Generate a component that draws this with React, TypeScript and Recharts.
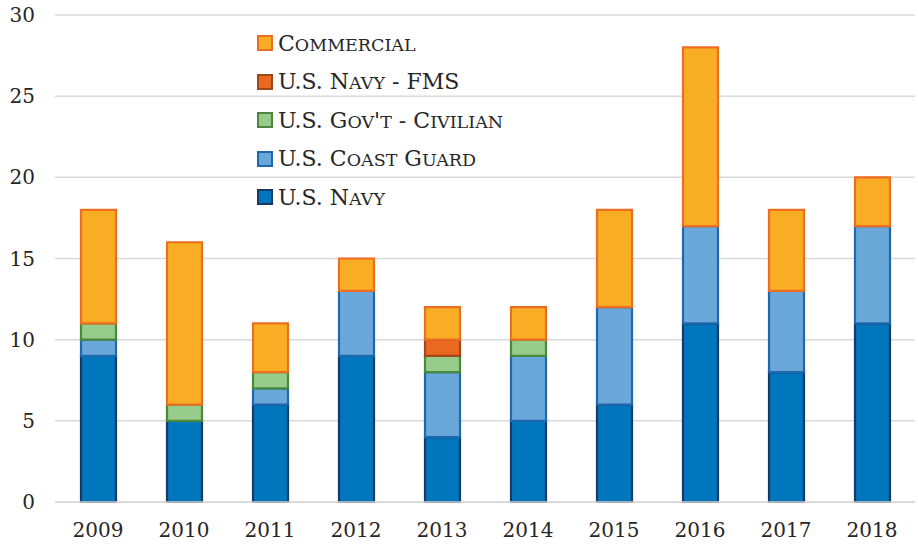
import React from 'react';
import { BarChart, Bar, XAxis, YAxis, CartesianGrid } from 'recharts';

const years = ['2009', '2010', '2011', '2012', '2013', '2014', '2015', '2016', '2017', '2018'];
const usNavy = [9, 5, 6, 9, 4, 5, 6, 11, 8, 11];
const coastGuard = [1, 0, 1, 4, 4, 4, 6, 6, 5, 6];
const govCivilian = [1, 1, 1, 0, 1, 1, 0, 0, 0, 0];
const navyFms = [0, 0, 0, 0, 1, 0, 0, 0, 0, 0];
const commercial = [7, 10, 3, 2, 2, 2, 6, 11, 5, 3];
const yTicks = [0, 5, 10, 15, 20, 25, 30];

const series = [
  { key: 'navy', name: 'U.S. Navy', fill: '#0077BC', stroke: '#1B3764' },
  { key: 'coast', name: 'U.S. Coast Guard', fill: '#6AA8DA', stroke: '#1F67AE' },
  { key: 'civ', name: "U.S. Gov't - Civilian", fill: '#97CC8B', stroke: '#4A893B' },
  { key: 'fms', name: 'U.S. Navy - FMS', fill: '#E8691F', stroke: '#A4461B' },
  { key: 'comm', name: 'Commercial', fill: '#F9AD24', stroke: '#ED6D22' },
];

const data = years.map((year, i) => ({
  year,
  navy: usNavy[i],
  coast: coastGuard[i],
  civ: govCivilian[i],
  fms: navyFms[i],
  comm: commercial[i],
}));

const font = '"DejaVu Serif", serif';

// fake small caps: lowercase letters drawn as smaller capitals
const SmallCaps = ({ text }: { text: string }) => (
  <>
    {text.split('').map((ch, i) =>
      ch !== ch.toUpperCase() ? (
        <span key={i} style={{ fontSize: 17.5 }}>{ch.toUpperCase()}</span>
      ) : (
        <span key={i}>{ch}</span>
      )
    )}
  </>
);

// legend drawn top to bottom in reverse stack order
const LegendBox = () => (
  <div style={{ position: 'absolute', left: 257, top: 24, fontFamily: font }}>
    {[...series].reverse().map((s) => (
      <div key={s.key} style={{ display: 'flex', alignItems: 'center', height: 38.5 }}>
        <span
          style={{
            width: 12,
            height: 12,
            background: s.fill,
            border: `2px solid ${s.stroke}`,
            marginRight: 5,
          }}
        />
        <span style={{ fontSize: 22, color: '#262626', whiteSpace: 'nowrap' }}>
          <SmallCaps text={s.name} />
        </span>
      </div>
    ))}
  </div>
);

export default function App() {
  return (
    <div style={{ position: 'absolute', left: 0, top: 0, width: 918, height: 545, background: '#fff' }}>
      <BarChart
        width={918}
        height={545}
        data={data}
        margin={{ top: 15, right: 3, left: 0, bottom: 0 }}
        barSize={35}
      >
        <CartesianGrid vertical={false} stroke="#d9d9d9" strokeWidth={1.5} />
        <XAxis
          dataKey="year"
          height={43}
          axisLine={{ stroke: '#d9d9d9', strokeWidth: 1.5 }}
          tickLine={false}
          tickSize={0}
          tickMargin={21}
          tick={{ fontFamily: font, fontSize: 20, fill: '#262626' }}
        />
        <YAxis
          width={55}
          domain={[0, 30]}
          ticks={yTicks}
          axisLine={false}
          tickLine={false}
          tickSize={0}
          tickMargin={20}
          tick={{ fontFamily: font, fontSize: 20, fill: '#262626' }}
        />
        {series.map((s) => (
          <Bar
            key={s.key}
            dataKey={s.key}
            name={s.name}
            stackId="a"
            fill={s.fill}
            stroke={s.stroke}
            strokeWidth={2.2}
            isAnimationActive={false}
          />
        ))}
      </BarChart>
      <LegendBox />
    </div>
  );
}
